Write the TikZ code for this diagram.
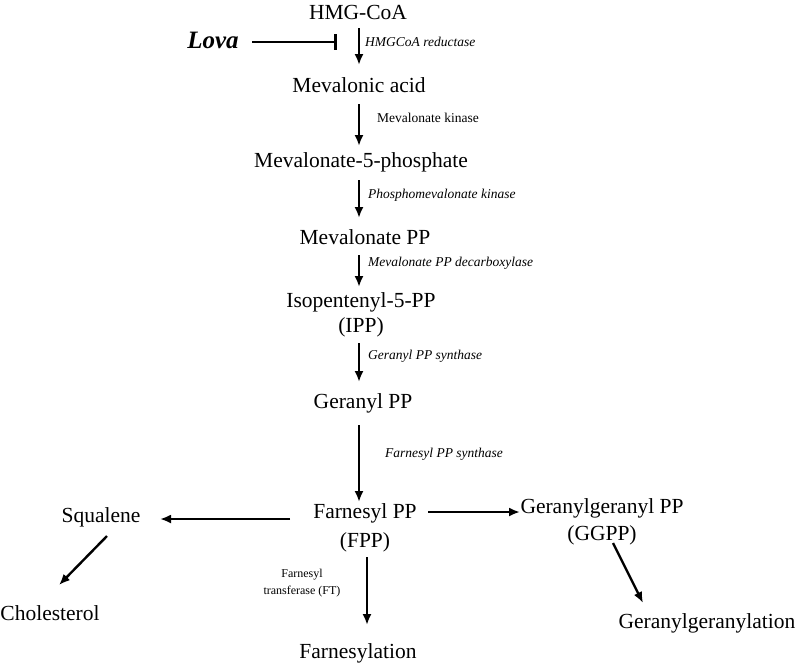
\documentclass[tikz,border=0pt]{standalone}
\usepackage{fontspec}
\setmainfont{Liberation Serif}
\usetikzlibrary{arrows.meta}
\begin{document}
\begin{tikzpicture}[x=1pt,y=-1pt,
  main/.style={inner sep=0pt,align=center,font=\fontsize{21.5}{27}\selectfont},
  enz/.style={inner sep=0pt,anchor=west,font=\fontsize{13.5}{15}\selectfont\itshape},
  enzr/.style={inner sep=0pt,anchor=west,font=\fontsize{13.5}{15}\selectfont},
  arr/.style={line width=2.4pt,-{Latex[length=11pt,width=9pt]}},
  inhib/.style={line width=2.6pt,-{Bar[width=16pt,line width=2.6pt]}}]
\useasboundingbox (0,0) rectangle (799,665);
% main chain
\node[main] (hmg) at (358,12) {HMG-CoA};
\node[inner sep=0pt,font=\fontsize{25}{28}\selectfont\bfseries\itshape] (lova) at (213,40) {Lova};
\node[main] (mev) at (359,85) {Mevalonic acid};
\node[main] (m5p) at (361,162) {Mevalonate-5-phosphate};
\node[main] (mpp) at (365,237) {Mevalonate PP};
\node[main,font=\fontsize{21.5}{25}\selectfont] (ipp) at (361,314.5) {Isopentenyl-5-PP\\(IPP)};
\node[main] (gpp) at (363,403) {Geranyl PP};
\node[main,font=\fontsize{21.5}{29}\selectfont] (fpp) at (365,527.5) {Farnesyl PP\\(FPP)};
\node[main] (sq) at (101,517) {Squalene};
\node[main] (chol) at (50,613) {Cholesterol};
\node[main] (farn) at (358,653) {Farnesylation};
\node[main] (ggpp) at (602,521.5) {Geranylgeranyl PP\\(GGPP)};
\node[main] (ggl) at (707,623) {Geranylgeranylation};
% enzyme labels
\node[enz] (e1) at (365,42) {HMGCoA reductase};
\node[enzr] (e2) at (377,118) {Mevalonate kinase};
\node[enz] (e3) at (368,195) {Phosphomevalonate kinase};
\node[enz] (e4) at (368,263) {Mevalonate PP decarboxylase};
\node[enz] (e5) at (368,356) {Geranyl PP synthase};
\node[enz] (e6) at (385,454) {Farnesyl PP synthase};
\node[inner sep=0pt,align=center,font=\fontsize{12}{17}\selectfont] (e7) at (302,583) {Farnesyl\\transferase (FT)};
% connectors
\coordinate (inh) at (337,42);
\draw[inhib] ([xshift=39pt,yshift=-2pt]lova.center) -- (inh);
\draw[arr] ([xshift=1pt,yshift=-16pt]hmg.center) -- ([yshift=20pt]mev.center);
\draw[arr] ([yshift=-19pt]mev.center) -- ([xshift=-2pt,yshift=16pt]m5p.center);
\draw[arr] ([xshift=-2pt,yshift=-18pt]m5p.center) -- ([xshift=-6pt,yshift=19pt]mpp.center);
\draw[arr] ([xshift=-6pt,yshift=-18pt]mpp.center) -- ([xshift=-2pt,yshift=27.5pt]ipp.center);
\draw[arr] ([xshift=-2pt,yshift=-28.5pt]ipp.center) -- ([xshift=-4pt,yshift=21pt]gpp.center);
\draw[arr] ([xshift=-4pt,yshift=-22pt]gpp.center) -- ([xshift=-6pt,yshift=25.5pt]fpp.center);
\draw[arr] ([xshift=-75pt,yshift=8.5pt]fpp.center) -- ([xshift=59pt,yshift=-2pt]sq.center);
\draw[arr] ([xshift=63pt,yshift=15.5pt]fpp.center) -- ([xshift=-82pt,yshift=9.5pt]ggpp.center);
\draw[arr] ([xshift=2pt,yshift=-29.5pt]fpp.center) -- ([xshift=9pt,yshift=28pt]farn.center);
\draw[arr] ([xshift=6pt,yshift=-19pt]sq.center) -- ([xshift=9pt,yshift=28pt]chol.center);
\draw[arr] ([xshift=11pt,yshift=-21.5pt]ggpp.center) -- ([xshift=-64pt,yshift=20pt]ggl.center);
\end{tikzpicture}
\end{document}
